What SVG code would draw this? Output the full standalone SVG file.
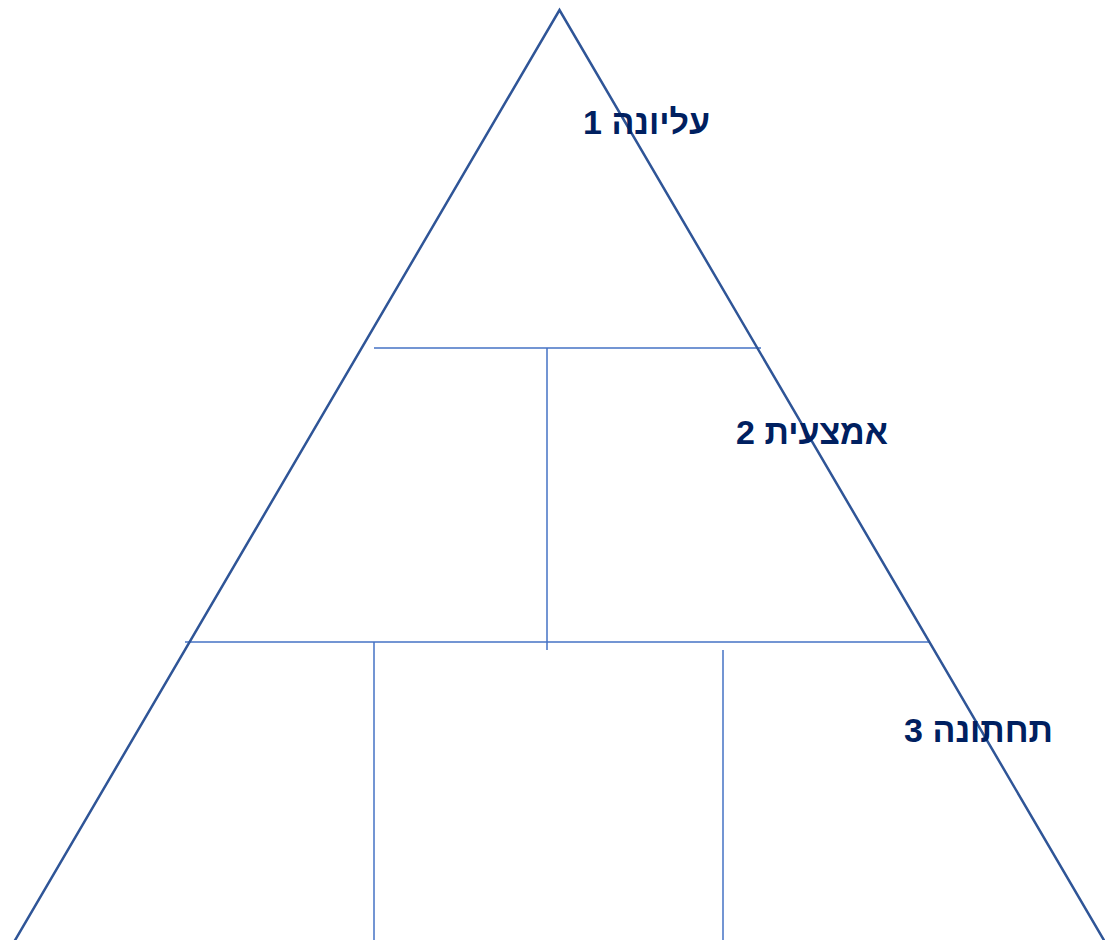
<svg xmlns="http://www.w3.org/2000/svg" width="1105" height="940" viewBox="0 0 1105 940">
<style>
.edge{fill:none;stroke:#2F5597;stroke-width:2.5}
.div{fill:none;stroke:#4472C4;stroke-width:1.5}
.lbl{font-family:"Liberation Sans",Arial,sans-serif;font-weight:bold;font-size:34px;fill:#002060}
</style>
<rect width="1105" height="940" fill="#ffffff"/>
<g id="connectors">
<line class="div" x1="374" y1="348" x2="761" y2="348"/>
<line class="div" x1="547" y1="348" x2="547" y2="650"/>
<line class="div" x1="185" y1="642" x2="930" y2="642"/>
<line class="div" x1="374" y1="642" x2="374" y2="940"/>
<line class="div" x1="723" y1="650" x2="723" y2="940"/>
</g>
<g id="pyramid">
<path class="edge" d="M14,942 L559.5,10 L1105,942"/>
</g>
<g id="level1"><text class="lbl" x="710" y="134" direction="rtl" text-anchor="start">עליונה 1</text></g>
<g id="level2"><text class="lbl" x="888" y="444" direction="rtl" text-anchor="start">אמצעית 2</text></g>
<g id="level3"><text class="lbl" x="1053" y="742" direction="rtl" text-anchor="start">תחתונה 3</text></g>
</svg>
